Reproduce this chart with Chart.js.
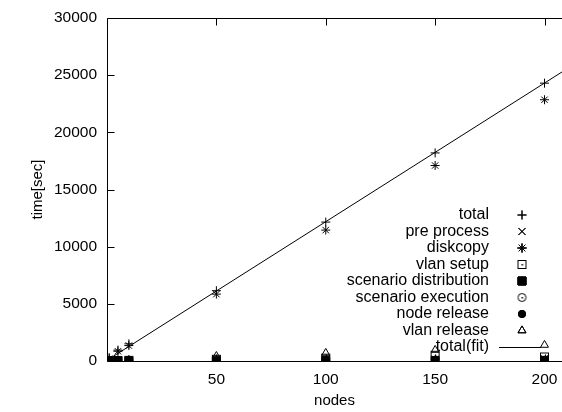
<!DOCTYPE html>
<html lang="en">
<head>
<meta charset="UTF-8">
<title>time vs nodes</title>
<style>
  html, body { margin: 0; padding: 0; background: #fff; }
  #wrap { width: 562px; height: 412px; }
</style>
</head>
<body>
<div id="wrap"><canvas id="chart" width="562" height="412"></canvas></div>
<script src="https://cdn.jsdelivr.net/npm/chart.js"></script>
<script>
// data
const nodes = [1, 5, 10, 50, 100, 150, 200];
const total = [300, 950, 1500, 6150, 12150, 18200, 24300];
const preProcess = [20, 30, 40, 80, 120, 160, 200];
const diskcopy = [200, 850, 1350, 5850, 11450, 17100, 22850];
const vlanSetup = [30, 40, 60, 150, 250, 500, 350];
const scenarioDistribution = [5, 10, 15, 30, 40, 50, 60];
const scenarioExecution = [5, 5, 5, 10, 10, 10, 10];
const nodeRelease = [5, 10, 15, 40, 60, 90, 100];
const vlanRelease = [20, 50, 90, 430, 700, 960, 1400];
const fitX = [0, 208];
const fitY = [60, 25280];
const yTicks = [0, 5000, 10000, 15000, 20000, 25000, 30000];
const xTicks = [50, 100, 150, 200];

const FONT = '"Liberation Sans", Arial, sans-serif';

// hollow box with dot, hollow circle with dot
function makeMark(kind) {
    const c = document.createElement('canvas');
    c.width = 11; c.height = 11;
    const g = c.getContext('2d');
    g.strokeStyle = '#000';
    g.fillStyle = '#000';
    g.lineWidth = 1;
    if (kind === 'box') {
        g.strokeRect(1.5, 1.5, 8, 8);
    } else {
        g.beginPath();
        g.arc(5.5, 5.5, 4, 0, Math.PI * 2);
        g.stroke();
    }
    g.fillRect(5, 5, 1.5, 1.5);
    return c;
}
const boxDot = makeMark('box');
const circleDot = makeMark('circle');

function pts(ys) {
    return nodes.map((x, i) => ({ x: x, y: ys[i] }));
}

function series(label, ys, style, radius, filled) {
    return {
        label: label,
        data: pts(ys),
        showLine: false,
        pointStyle: style,
        pointRadius: radius,
        pointHoverRadius: radius,
        borderColor: '#000',
        backgroundColor: filled ? '#000' : 'rgba(0,0,0,0)',
        pointBorderWidth: 1
    };
}

const datasets = [
    series('total', total, 'cross', 4.5, false),
    series('pre process', preProcess, 'crossRot', 5, false),
    series('diskcopy', diskcopy, 'star', 4.5, false),
    series('vlan setup', vlanSetup, boxDot, 5, false),
    series('scenario distribution', scenarioDistribution, 'rect', 5.6, true),
    series('scenario execution', scenarioExecution, circleDot, 5, false),
    series('node release', nodeRelease, 'circle', 3.6, true),
    series('vlan release', vlanRelease, 'triangle', 4.6, false),
    {
        label: 'total(fit)',
        data: fitX.map((x, i) => ({ x: x, y: fitY[i] })),
        showLine: true,
        pointRadius: 0,
        borderColor: '#000',
        borderWidth: 1,
        fill: false
    }
];

const frame = {
    id: 'frame',
    afterDraw(chart) {
        const ctx = chart.ctx;
        const a = chart.chartArea;
        const xs = chart.scales.x, ys = chart.scales.y;
        ctx.save();
        ctx.strokeStyle = '#000';
        ctx.lineWidth = 1;
        ctx.beginPath();
        const L = Math.round(a.left) + 0.5, T = Math.round(a.top) + 0.5, B = Math.round(a.bottom) + 0.5;
        ctx.moveTo(a.right, T); ctx.lineTo(L, T); ctx.lineTo(L, B); ctx.lineTo(a.right, B);
        yTicks.forEach(v => {
            const y = Math.round(ys.getPixelForValue(v)) + 0.5;
            ctx.moveTo(L, y); ctx.lineTo(L + 7, y);
        });
        xTicks.forEach(v => {
            const x = Math.round(xs.getPixelForValue(v)) + 0.5;
            ctx.moveTo(x, B); ctx.lineTo(x, B - 7);
            ctx.moveTo(x, T); ctx.lineTo(x, T + 7);
        });
        ctx.stroke();

        // axis titles
        ctx.fillStyle = '#000';
        ctx.font = '15px ' + FONT;
        ctx.textAlign = 'center';
        ctx.textBaseline = 'middle';
        ctx.fillText('nodes', (a.left + a.right) / 2, 401);
        ctx.save();
        ctx.translate(38, (a.top + a.bottom) / 2);
        ctx.rotate(-Math.PI / 2);
        ctx.fillText('time[sec]', 0, 0);
        ctx.restore();

        // key, gnuplot style: right aligned text, sample to the right
        ctx.font = '16px ' + FONT;
        ctx.textAlign = 'right';
        chart.data.datasets.forEach((ds, i) => {
            const y = 215 + i * 16.5;
            ctx.fillStyle = '#000';
            ctx.fillText(ds.label, 489, y);
            if (ds.showLine) {
                ctx.beginPath();
                ctx.moveTo(499, Math.round(y) + 0.5);
                ctx.lineTo(541, Math.round(y) + 0.5);
                ctx.stroke();
            } else {
                ctx.fillStyle = ds.backgroundColor;
                Chart.helpers.drawPoint(ctx, {
                    pointStyle: ds.pointStyle,
                    radius: ds.pointRadius,
                    rotation: 0,
                    borderWidth: 1
                }, 522, y);
                ctx.fill();
                ctx.stroke();
            }
        });
        ctx.restore();
    }
};

new Chart(document.getElementById('chart'), {
    type: 'scatter',
    data: { datasets: datasets },
    options: {
        responsive: false,
        animation: false,
        events: [],
        layout: { autoPadding: false, padding: { top: 18, right: 0, left: 0, bottom: 0 } },
        plugins: { legend: { display: false }, tooltip: { enabled: false } },
        scales: {
            x: {
                type: 'linear',
                min: 0,
                max: 208,
                afterBuildTicks: s => { s.ticks = xTicks.map(v => ({ value: v })); },
                afterFit: s => { s.height = 51; s.paddingLeft = 0; s.paddingRight = 0; },
                grid: { display: false, drawTicks: false },
                border: { display: false },
                ticks: { color: '#000', padding: 9, maxRotation: 0, font: { family: FONT, size: 15.5 } }
            },
            y: {
                type: 'linear',
                min: 0,
                max: 30000,
                afterBuildTicks: s => { s.ticks = yTicks.map(v => ({ value: v })); },
                afterFit: s => { s.width = 107; s.paddingTop = 0; s.paddingBottom = 0; },
                grid: { display: false, drawTicks: false },
                border: { display: false },
                ticks: { color: '#000', padding: 10, font: { family: FONT, size: 15.5 }, callback: v => String(v) }
            }
        }
    },
    plugins: [frame]
});
</script>
</body>
</html>
